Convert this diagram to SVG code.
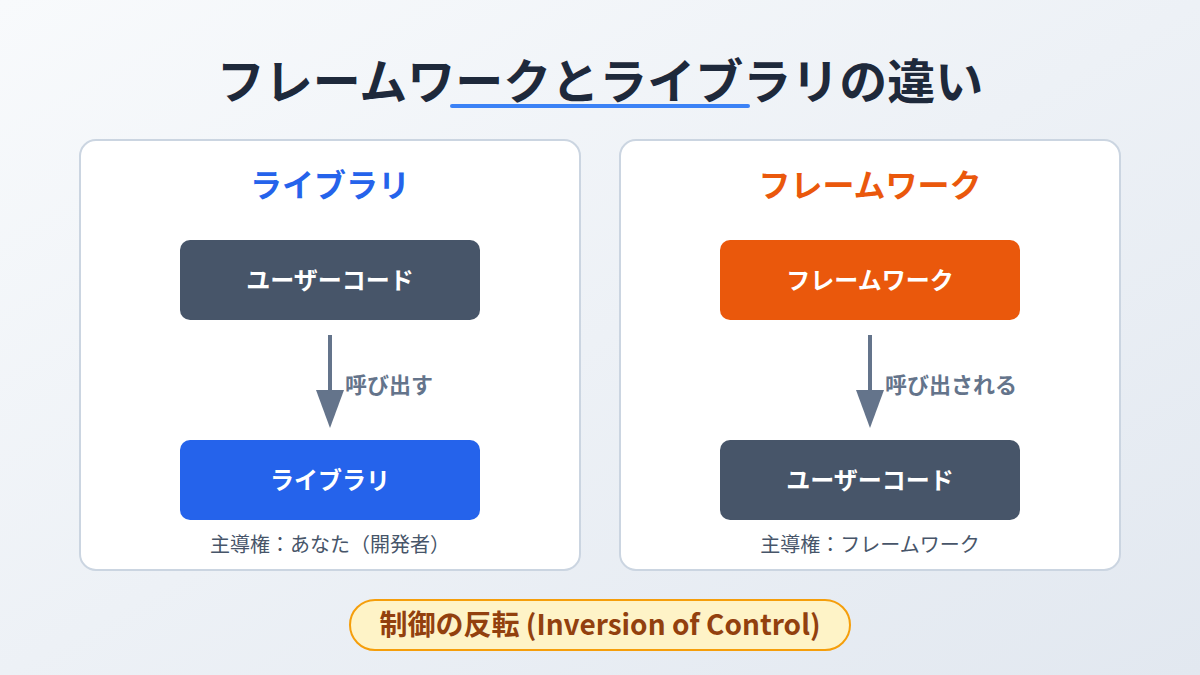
<svg xmlns="http://www.w3.org/2000/svg" width="1200" height="675" viewBox="0 0 1200 675">
<defs>
<linearGradient id="bg" x1="0" y1="0" x2="1" y2="1">
<stop offset="0" stop-color="#f8fafc"/>
<stop offset="1" stop-color="#e2e8f0"/>
</linearGradient>
<style>
text{font-family:"Noto Sans CJK JP","Noto Sans",sans-serif;text-anchor:middle}
.panel{fill:#ffffff;stroke:#cbd5e1;stroke-width:2}
.box{stroke:none}
.btxt{fill:#ffffff;font-size:24px;font-weight:700}
.ptitle{font-size:32px;font-weight:700}
.foot{fill:#475569;font-size:20px}
.lbl{fill:#64748b;font-size:22px;font-weight:700;text-anchor:start}
.conn{stroke:#64748b;stroke-width:4;fill:none}
.head{fill:#64748b}
.badge{font-size:28px;font-weight:700;fill:#92400e}
</style>
</defs>
<rect width="1200" height="675" fill="url(#bg)"/>
<g id="title">
<text x="600" y="99" font-size="48" font-weight="700" fill="#1e293b">フレームワークとライブラリの違い</text>
<line x1="452" y1="106" x2="748" y2="106" stroke="#3b82f6" stroke-width="4" stroke-linecap="round"/>
</g>
<g id="panel-library">
<rect class="panel" x="80" y="140" width="500" height="430" rx="16"/>
<text class="ptitle" x="330" y="197" fill="#2563eb">ライブラリ</text>
<text class="foot" x="330" y="552">主導権：あなた（開発者）</text>
</g>
<g id="panel-framework">
<rect class="panel" x="620" y="140" width="500" height="430" rx="16"/>
<text class="ptitle" x="870" y="197" fill="#ea580c">フレームワーク</text>
<text class="foot" x="870" y="552">主導権：フレームワーク</text>
</g>
<g id="node-usercode-left">
<rect class="box" x="180" y="240" width="300" height="80" rx="10" fill="#475569"/>
<text class="btxt" x="330" y="289">ユーザーコード</text>
</g>
<g id="node-library">
<rect class="box" x="180" y="440" width="300" height="80" rx="10" fill="#2563eb"/>
<text class="btxt" x="330" y="489">ライブラリ</text>
</g>
<g id="node-framework">
<rect class="box" x="720" y="240" width="300" height="80" rx="10" fill="#ea580c"/>
<text class="btxt" x="870" y="289">フレームワーク</text>
</g>
<g id="node-usercode-right">
<rect class="box" x="720" y="440" width="300" height="80" rx="10" fill="#475569"/>
<text class="btxt" x="870" y="489">ユーザーコード</text>
</g>
<g id="connectors">
<line class="conn" x1="330" y1="335" x2="330" y2="392"/>
<path class="head" d="M316,390 L344,390 L330,428 Z"/>
<text class="lbl" x="345" y="393">呼び出す</text>
<line class="conn" x1="870" y1="335" x2="870" y2="392"/>
<path class="head" d="M856,390 L884,390 L870,428 Z"/>
<text class="lbl" x="885" y="393">呼び出される</text>
</g>
<g id="ioc-badge">
<rect x="350" y="600" width="500" height="50" rx="25" fill="#fef3c7" stroke="#f59e0b" stroke-width="2"/>
<text class="badge" x="600" y="635">制御の反転 (Inversion of Control)</text>
</g>
</svg>
